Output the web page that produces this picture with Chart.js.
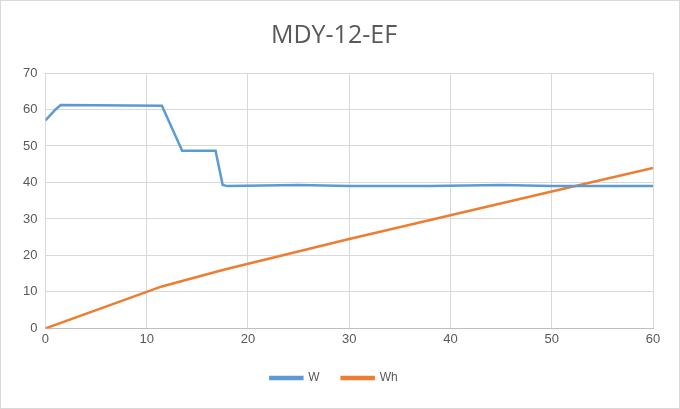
<!DOCTYPE html>
<html><head><meta charset="utf-8">
<script src="https://cdn.jsdelivr.net/npm/chart.js@4"></script>
<style>html,body{margin:0;padding:0;background:#fff}#w{width:678px;height:407px;border:1px solid #d9d9d9}</style>
</head><body><div id="w"><canvas id="c"></canvas></div>
<script>
const wX = [0, 1, 1.5, 11.5, 13.5, 16.8, 17.5, 18, 25, 30, 38, 45, 50, 60];
const wY = [57, 60, 61.2, 61, 48.7, 48.7, 39.3, 39, 39.3, 39, 39, 39.3, 39, 39];
const whX = [0, 11.5, 17.5, 30, 40, 50, 60];
const whY = [0, 11.5, 16, 24.5, 31, 37.5, 44];
const pts = (xs, ys) => xs.map((x, i) => ({x, y: ys[i]}));
new Chart(document.getElementById('c'), {
  type: 'line',
  data: { datasets: [
    { label: 'W', data: pts(wX, wY), borderColor: '#5b9bd5', backgroundColor: '#5b9bd5', borderWidth: 2.5, pointRadius: 0, tension: 0 },
    { label: 'Wh', data: pts(whX, whY), borderColor: '#ed7d31', backgroundColor: '#ed7d31', borderWidth: 2.5, pointRadius: 0, tension: 0 }
  ]},
  options: {
    responsive: true, maintainAspectRatio: false, animation: false,
    layout: { padding: { left: 14, right: 26, top: 12, bottom: 14 } },
    plugins: {
      title: { display: true, text: 'MDY-12-EF', color: '#595959', font: { size: 25, family: 'Open Sans', weight: 'normal' }, padding: { top: 8, bottom: 22 } },
      legend: { position: 'bottom', labels: { color: '#595959', font: { size: 12 }, boxWidth: 32, boxHeight: 2, padding: 22 } }
    },
    scales: {
      x: { type: 'linear', min: 0, max: 60, ticks: { stepSize: 10, color: '#595959', font: { size: 13 } }, grid: { color: '#d9d9d9', drawTicks: false }, border: { color: '#bfbfbf' } },
      y: { min: 0, max: 70, ticks: { stepSize: 10, color: '#595959', font: { size: 13 }, padding: 8 }, grid: { color: '#d9d9d9', drawTicks: false }, border: { display: false } }
    }
  }
});
</script></body></html>
